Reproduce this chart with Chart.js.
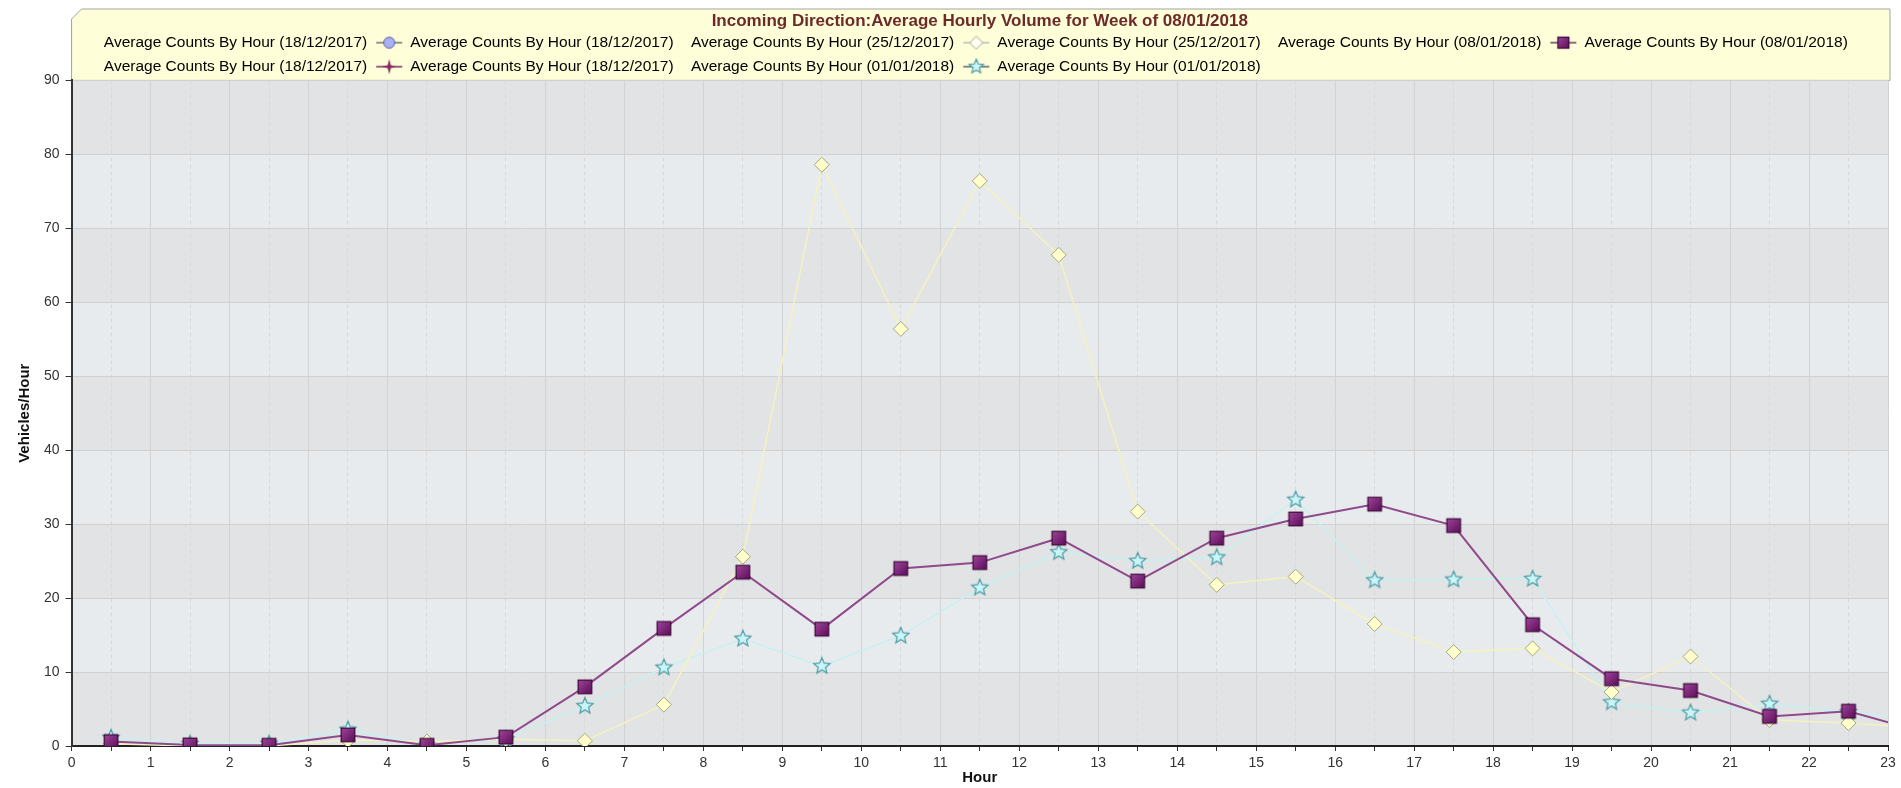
<!DOCTYPE html>
<html>
<head>
<meta charset="utf-8">
<script src="https://cdn.jsdelivr.net/npm/chart.js@4.4.1/dist/chart.umd.min.js"></script>
<style>
html, body { margin: 0; padding: 0; background: #fff; }
#wrap { width: 1901px; height: 788px; }
</style>
</head>
<body>
<div id="wrap"><canvas id="chart"></canvas></div>
<script>
// hour buckets are plotted at the middle of each hour
const hours = [0.5, 1.5, 2.5, 3.5, 4.5, 5.5, 6.5, 7.5, 8.5, 9.5, 10.5, 11.5,
    12.5, 13.5, 14.5, 15.5, 16.5, 17.5, 18.5, 19.5, 20.5, 21.5, 22.5, 23.5];
const hourTicks = [0, 1, 2, 3, 4, 5, 6, 7, 8, 9, 10, 11, 12, 13, 14, 15, 16, 17, 18, 19, 20, 21, 22, 23];
const volumeTicks = [0, 10, 20, 30, 40, 50, 60, 70, 80, 90];

const counts18Dec = [];
const counts25Dec = [0.3, 0, 0, 0.8, 0.6, 0.9, 0.7, 5.6, 25.6, 78.6, 56.4, 76.4,
    66.4, 31.7, 21.8, 22.9, 16.5, 12.7, 13.2, 7.3, 12.1, 3.5, 3.1, 2.4];
const counts08Jan = [0.6, 0.15, 0.1, 1.5, 0.1, 1.2, 8.0, 15.9, 23.5, 15.8, 24.0, 24.8,
    28.1, 22.3, 28.1, 30.7, 32.7, 29.8, 16.4, 9.1, 7.5, 4.0, 4.7, 1.7];
const counts18DecB = [];
const counts01Jan = [1.1, 0.3, 0.3, 2.2, 0.2, 0.9, 5.4, 10.6, 14.5, 10.8, 14.9, 21.4,
    26.2, 25.0, 25.5, 33.3, 22.4, 22.5, 22.6, 5.9, 4.5, 5.7, 4.6, 3.5];

const titleText = 'Incoming Direction:Average Hourly Volume for Week of 08/01/2018';
const seriesName = 'Average Counts By Hour';

function points(values) {
    return values.map((v, i) => ({x: hours[i], y: v}));
}

// ---- marker drawing helpers ----
function starPath(g, cx, cy, spikes, outer, inner) {
    g.beginPath();
    for (let i = 0; i < spikes * 2; i++) {
        const r = i % 2 === 0 ? outer : inner;
        const a = -Math.PI / 2 + i * Math.PI / spikes;
        g.lineTo(cx + r * Math.cos(a), cy + r * Math.sin(a));
    }
    g.closePath();
}
function drawStar(g, cx, cy, outer) {
    starPath(g, cx, cy, 5, outer, outer * 0.45);
    g.fillStyle = '#c8f5f7';
    g.fill();
    g.strokeStyle = '#4f9ca5';
    g.lineWidth = 1.2;
    g.stroke();
}
function drawSquare(g, cx, cy, half) {
    let grad = g.createLinearGradient(cx - half, cy - half, cx + half, cy + half);
    grad.addColorStop(0, '#a0449b');
    grad.addColorStop(1, '#5c0e58');
    g.fillStyle = grad;
    g.fillRect(cx - half, cy - half, half * 2, half * 2);
    g.strokeStyle = '#3a0636';
    g.lineWidth = 1.2;
    g.strokeRect(cx - half, cy - half, half * 2, half * 2);
}
function drawDiamond(g, cx, cy, r) {
    g.beginPath();
    g.moveTo(cx, cy - r); g.lineTo(cx + r, cy); g.lineTo(cx, cy + r); g.lineTo(cx - r, cy);
    g.closePath();
    g.fillStyle = '#fffff0';
    g.fill();
    g.strokeStyle = '#a6a596';
    g.lineWidth = 1;
    g.stroke();
}
function drawCircle(g, cx, cy, r) {
    g.beginPath();
    g.arc(cx, cy, r, 0, Math.PI * 2);
    g.fillStyle = '#a8b1f3';
    g.fill();
    g.strokeStyle = '#5a60a6';
    g.lineWidth = 1;
    g.stroke();
}
function drawStar4(g, cx, cy, r) {
    starPath(g, cx, cy, 4, r, r * 0.3);
    g.fillStyle = '#8a2a62';
    g.fill();
}

function pointImage(size, draw) {
    let c = document.createElement('canvas');
    c.width = size; c.height = size;
    draw(c.getContext('2d'), size / 2, size / 2);
    return c;
}
const starPoint = pointImage(20, (g, x, y) => drawStar(g, x, y, 8.5));
const squarePoint = pointImage(18, (g, x, y) => drawSquare(g, x, y, 6.8));

// legend icons: short line with the marker on it
function legendIcon(lineColor, draw) {
    let c = document.createElement('canvas');
    c.width = 62; c.height = 18;
    let g = c.getContext('2d');
    if (draw) {
        const cx = 44, cy = 9;
        g.strokeStyle = lineColor;
        g.lineWidth = 1.5;
        g.beginPath(); g.moveTo(cx - 13, cy); g.lineTo(cx + 13, cy); g.stroke();
        draw(g, cx, cy);
    }
    return c;
}
const blankIcon = legendIcon(null, null);
const legendIcons = [
    legendIcon('#707070', (g, x, y) => drawCircle(g, x, y, 5.5)),
    legendIcon('#bcbcb4', (g, x, y) => drawDiamond(g, x, y, 6.5)),
    legendIcon('#5a4058', (g, x, y) => drawSquare(g, x, y, 5.5)),
    legendIcon('#7a2b5c', (g, x, y) => drawStar4(g, x, y, 7.5)),
    legendIcon('#56656c', (g, x, y) => drawStar(g, x, y, 7.5))
];

// ---- plugins for the backgrounds ----
const backdrop = {
    id: 'backdrop',
    beforeDraw(chart) {
        const {ctx, chartArea: a, scales: {y}} = chart;
        ctx.save();
        // yellow header box
        const L = a.left, R = a.right + 2, T = 9, B = a.top;
        ctx.beginPath();
        ctx.moveTo(L, T + 10); ctx.lineTo(L + 10, T); ctx.lineTo(R, T); ctx.lineTo(R, B); ctx.lineTo(L, B);
        ctx.closePath();
        ctx.fillStyle = '#fefed8';
        ctx.fill();
        ctx.strokeStyle = '#a3a3a3';
        ctx.lineWidth = 1;
        ctx.stroke();
        // alternating bands
        for (let i = 0; i < y.ticks.length - 1; i++) {
            const top = y.getPixelForValue(y.ticks[i + 1].value);
            const bot = y.getPixelForValue(y.ticks[i].value);
            ctx.fillStyle = i % 2 === 0 ? '#e2e3e5' : '#e8ebee';
            ctx.fillRect(a.left, top, a.right - a.left, bot - top);
        }
        ctx.restore();
    }
};
const legendShift = {
    id: 'legendShift',
    afterLayout(chart) {
        const l = chart.legend;
        l.left += 15; l.right += 15;
        l.top += 4; l.bottom += 4;
    }
};

Chart.defaults.font.family = '"Liberation Sans", Arial, sans-serif';
Chart.defaults.color = '#333';

const ctx = document.getElementById('chart').getContext('2d');
const mychart = new Chart(ctx, {
    type: 'line',
    data: {
        datasets: [{
            label: seriesName + ' (18/12/2017)',
            data: points(counts18Dec),
            borderColor: '#707070',
            pointStyle: 'circle',
            order: 3
        }, {
            label: seriesName + ' (25/12/2017)',
            data: points(counts25Dec),
            borderColor: '#f4f2bf',
            borderWidth: 1.5,
            pointStyle: 'rectRot',
            pointRadius: 7.5,
            pointBackgroundColor: '#ffffcc',
            pointBorderColor: '#a8a67c',
            pointBorderWidth: 1,
            order: 1
        }, {
            label: seriesName + ' (08/01/2018)',
            data: points(counts08Jan),
            borderColor: '#8f4a8c',
            borderWidth: 2,
            pointStyle: squarePoint,
            pointRadius: 8,
            order: 0
        }, {
            label: seriesName + ' (18/12/2017)',
            data: points(counts18DecB),
            borderColor: '#7a2b5c',
            order: 4
        }, {
            label: seriesName + ' (01/01/2018)',
            data: points(counts01Jan),
            borderColor: '#c6f1f1',
            borderWidth: 1.5,
            pointStyle: starPoint,
            pointRadius: 8,
            order: 2
        }]
    },
    options: {
        responsive: true,
        maintainAspectRatio: false,
        animation: false,
        devicePixelRatio: 1,
        layout: {padding: {left: 14, right: 13, top: 0, bottom: 0}},
        elements: {line: {tension: 0}},
        plugins: {
            tooltip: {enabled: false},
            title: {
                display: true,
                text: titleText,
                fullSize: false,
                color: '#6e2a2a',
                font: {size: 17, weight: 'bold'},
                padding: {top: 11, bottom: -9}
            },
            legend: {
                position: 'top',
                align: 'start',
                fullSize: false,
                labels: {
                    usePointStyle: true,
                    pointStyleWidth: 1,
                    padding: 8.5,
                    color: '#222',
                    font: {size: 15.5},
                    generateLabels: chart => {
                        let items = [];
                        chart.data.datasets.forEach((ds, i) => {
                            items.push({text: ds.label, pointStyle: blankIcon, fillStyle: 'rgba(0,0,0,0)',
                                strokeStyle: 'rgba(0,0,0,0)', lineWidth: 0, hidden: false, datasetIndex: i});
                            items.push({text: '      ' + ds.label, pointStyle: legendIcons[i], fillStyle: 'rgba(0,0,0,0)',
                                strokeStyle: 'rgba(0,0,0,0)', lineWidth: 0, hidden: false, datasetIndex: i});
                        });
                        return items;
                    }
                }
            }
        },
        scales: {
            x: {
                type: 'linear',
                min: hourTicks[0],
                max: hourTicks[hourTicks.length - 1],
                afterBuildTicks: axis => {
                    let t = [];
                    hourTicks.forEach((h, i) => {
                        t.push({value: h});
                        if (i < hourTicks.length - 1) t.push({value: h + 0.5});
                    });
                    axis.ticks = t;
                },
                ticks: {
                    autoSkip: false,
                    maxRotation: 0,
                    padding: 5,
                    color: '#333',
                    font: {size: 14, lineHeight: 1},
                    callback: v => hourTicks.includes(v) ? String(v) : ''
                },
                grid: {
                    color: c => (c.tick && Number.isInteger(c.tick.value)) ? '#d2d2d2' : '#d9d9d9',
                    tickColor: '#333',
                    tickLength: 5
                },
                border: {
                    color: '#222',
                    width: 2,
                    dash: c => (c.tick && !Number.isInteger(c.tick.value)) ? [4, 3] : []
                },
                title: {
                    display: true,
                    text: 'Hour',
                    color: '#111',
                    font: {size: 15, weight: 'bold'},
                    padding: {top: -6, bottom: 1}
                }
            },
            y: {
                min: volumeTicks[0],
                max: volumeTicks[volumeTicks.length - 1],
                afterBuildTicks: axis => {
                    axis.ticks = volumeTicks.map(v => ({value: v}));
                },
                ticks: {
                    padding: 6,
                    color: '#333',
                    font: {size: 14}
                },
                grid: {
                    color: '#d0d0d0',
                    tickColor: '#333',
                    tickLength: 6
                },
                border: {color: '#333', width: 2},
                title: {
                    display: true,
                    text: 'Vehicles/Hour',
                    color: '#111',
                    font: {size: 15, weight: 'bold'},
                    padding: {top: 2, bottom: 4}
                }
            }
        }
    },
    plugins: [backdrop, legendShift]
});
</script>
</body>
</html>
